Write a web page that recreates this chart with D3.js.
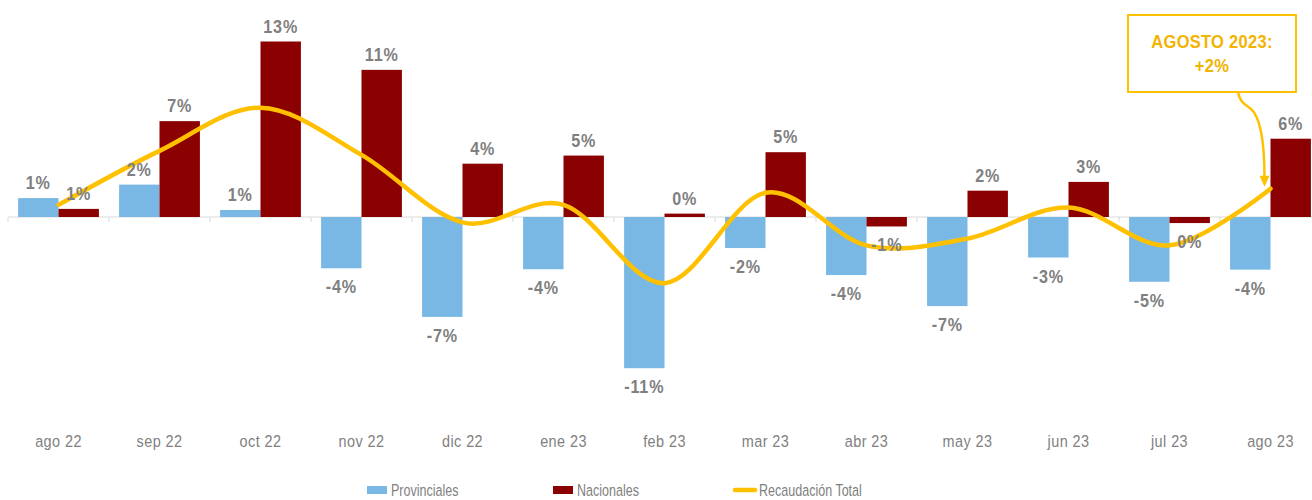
<!DOCTYPE html>
<html>
<head>
<meta charset="utf-8">
<script src="https://cdn.jsdelivr.net/npm/d3@7"></script>
<style>
  body { margin: 0; background: #fff; }
  svg { display: block; }
  text { font-family: "Liberation Sans Narrow", "Liberation Sans", Arial, sans-serif; }
</style>
</head>
<body>
<svg class="chart"></svg>
<script>
let categories = ["ago 22", "sep 22", "oct 22", "nov 22", "dic 22", "ene 23", "feb 23",
                  "mar 23", "abr 23", "may 23", "jun 23", "jul 23", "ago 23"];

let provinciales = [1.4, 2.4, 0.52, -3.8, -7.4, -3.87, -11.2, -2.3, -4.3, -6.6, -3.0, -4.8, -3.9];
let nacionales   = [0.6, 7.1, 13.0, 10.9, 3.95, 4.55, 0.25, 4.8, -0.7, 1.95, 2.6, -0.45, 5.8];
let total        = [0.9, 4.9, 8.1, 4.6, -0.4, 0.9, -4.9, 1.8, -2.1, -1.6, 0.7, -2.1, 2.1];

let seriesNames = ["Provinciales", "Nacionales", "Recaudación Total"];
let annotationLines = ["AGOSTO 2023:", "+2%"];

/******************/

let width = 1312, height = 500;
let colors = {Provinciales: "#79b8e4", Nacionales: "#8b0000", "Recaudación Total": "#ffc000"};

let svg = d3.select("svg")
            .attr("width", width)
            .attr("height", height);

// scales
let xScale = d3.scaleBand()
              .domain(categories)
              .range([8, 8 + 101 * categories.length])
              .padding(0);

let xSub = d3.scaleBand()
              .domain(["Provinciales", "Nacionales"])
              .range([0, xScale.bandwidth()])
              .paddingInner(0)
              .paddingOuter(0.25);

let yScale = d3.scaleLinear()
              .domain([-15, 15])
              .range([217 + 15 * 13.5, 217 - 15 * 13.5]);

let fmt = v => `${Math.round(v) || 0}%`;

// narrow text: no condensed font installed, so squeeze glyphs horizontally
let narrow = (x, y, sx) => `translate(${x}, ${y}) scale(${sx}, 1)`;

/******************/

// x axis: baseline + ticks between categories
let axis = svg.append("g").attr("class", "x-axis");
axis.append("line")
    .attr("x1", xScale.range()[0]).attr("x2", xScale.range()[1])
    .attr("y1", yScale(0)).attr("y2", yScale(0))
    .attr("stroke", "#d9d9d9").attr("stroke-width", 1);

axis.selectAll(".tick")
    .data(categories.concat(["end"]))
  .enter().append("line")
    .attr("class", "tick")
    .attr("x1", (d, i) => xScale.range()[0] + i * xScale.step())
    .attr("x2", (d, i) => xScale.range()[0] + i * xScale.step())
    .attr("y1", yScale(0)).attr("y2", yScale(0) + 5)
    .attr("stroke", "#d9d9d9");

axis.selectAll(".cat-label")
    .data(categories)
  .enter().append("text")
    .attr("class", "cat-label")
    .attr("transform", d => narrow(xScale(d) + xScale.bandwidth() / 2, 447, 0.85))
    .attr("text-anchor", "middle")
    .attr("font-size", 17)
    .attr("letter-spacing", 0.5)
    .attr("fill", "#7f7f7f")
    .text(d => d);

/******************/

// bars
let barData = [];
categories.forEach((c, i) => {
  barData.push({cat: c, key: "Provinciales", value: provinciales[i]});
  barData.push({cat: c, key: "Nacionales", value: nacionales[i]});
});

svg.selectAll(".bar")
    .data(barData)
  .enter().append("rect")
    .attr("class", "bar")
    .attr("x", d => xScale(d.cat) + xSub(d.key))
    .attr("width", xSub.bandwidth())
    .attr("y", d => yScale(Math.max(0, d.value)))
    .attr("height", d => Math.abs(yScale(d.value) - yScale(0)))
    .attr("fill", d => colors[d.key]);

// total line
let line = d3.line()
            .x((d, i) => xScale(categories[i]) + xScale.bandwidth() / 2)
            .y(d => yScale(d))
            .curve(d3.curveCardinal.tension(0));

svg.append("path")
    .datum(total)
    .attr("d", line)
    .attr("fill", "none")
    .attr("stroke", colors["Recaudación Total"])
    .attr("stroke-width", 4.5)
    .attr("stroke-linecap", "round");

// bar labels
svg.selectAll(".bar-label")
    .data(barData)
  .enter().append("text")
    .attr("class", "bar-label")
    .attr("transform", d => narrow(
        xScale(d.cat) + xSub(d.key) + xSub.bandwidth() / 2,
        d.value >= 0 ? yScale(d.value) - 9 : yScale(d.value) + 25,
        0.85))
    .attr("text-anchor", "middle")
    .attr("font-size", 19)
    .attr("font-weight", "bold")
    .attr("letter-spacing", 1)
    .attr("fill", "#808080")
    .text(d => fmt(d.value));

/******************/

// annotation for last month
let last = categories.length - 1;
let px = xScale(categories[last]) + xScale.bandwidth() / 2;
let py = yScale(total[last]);
let box = {x: 1128, y: 15, w: 168, h: 77};

let ann = svg.append("g").attr("class", "annotation");
ann.append("rect")
    .attr("x", box.x).attr("y", box.y)
    .attr("width", box.w).attr("height", box.h)
    .attr("fill", "#fff")
    .attr("stroke", "#ffc000").attr("stroke-width", 2);

ann.selectAll("text")
    .data(annotationLines)
  .enter().append("text")
    .attr("transform", (d, i) => narrow(box.x + box.w / 2, box.y + 33 + i * 24, 0.87))
    .attr("text-anchor", "middle")
    .attr("font-size", 19)
    .attr("font-weight", "bold")
    .attr("letter-spacing", 0.3)
    .attr("fill", "#f2b400")
    .text(d => d);

let tipX = px - 6, tipY = py - 2;
let sx = box.x + 110, sy = box.y + box.h;
ann.append("path")
    .attr("d", `M${sx},${sy} C${sx + 2},${sy + 10} ${sx + 6},${sy + 12} ${sx + 12},${sy + 16}
                C${sx + 22},${sy + 24} ${tipX},${sy + 50} ${tipX},${tipY - 9}`)
    .attr("fill", "none")
    .attr("stroke", "#ffc000")
    .attr("stroke-width", 2.5);

ann.append("path")
    .attr("d", `M${tipX - 5},${tipY - 11} L${tipX + 5},${tipY - 11} L${tipX},${tipY} Z`)
    .attr("fill", "#ffc000");

/******************/

// legend
let legendX = [367, 553, 733];
let legend = svg.selectAll(".legend")
    .data(seriesNames)
  .enter().append("g")
    .attr("class", "legend")
    .attr("transform", (d, i) => `translate(${legendX[i]}, 490)`);

legend.filter((d, i) => i < 2).append("rect")
    .attr("x", 0).attr("y", -4)
    .attr("width", 20).attr("height", 8)
    .attr("fill", d => colors[d]);

legend.filter((d, i) => i === 2).append("line")
    .attr("x1", 2).attr("x2", 22)
    .attr("y1", 0).attr("y2", 0)
    .attr("stroke", d => colors[d])
    .attr("stroke-width", 4.5)
    .attr("stroke-linecap", "round");

legend.append("text")
    .attr("transform", (d, i) => narrow(i === 2 ? 26 : 24, 5.5, 0.76))
    .attr("font-size", 16.5)
    .attr("fill", "#7f7f7f")
    .text(d => d);
</script>
</body>
</html>
